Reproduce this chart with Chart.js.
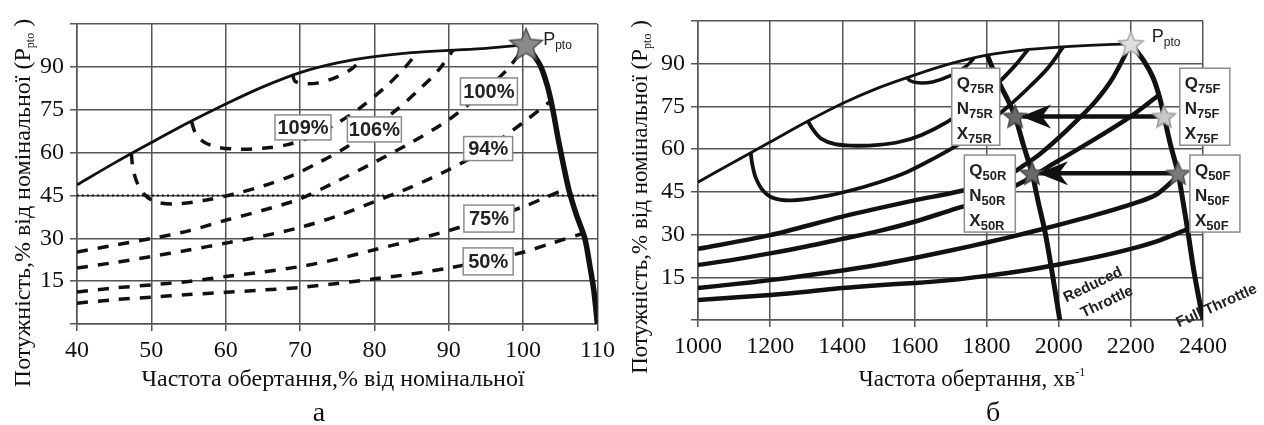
<!DOCTYPE html>
<html lang="uk">
<head>
<meta charset="utf-8">
<title>Характеристики двигуна</title>
<script src="https://cdn.jsdelivr.net/npm/chart.js@4.4.1/dist/chart.umd.min.js"></script>
<style>
  html, body { margin: 0; padding: 0; background: #fff; }
  .wrap { position: relative; width: 1264px; height: 425px; overflow: hidden; background: #fff; }
  .wrap canvas { position: absolute; top: 0; }
</style>
</head>
<body>
<div class="wrap">
  <canvas id="chartA" width="620" height="425" style="left:0"></canvas>
  <canvas id="chartB" width="644" height="425" style="left:620px"></canvas>
</div>
<script>
/* ===== Графік а: частота, % від номінальної ===== */
const aTicksX = [40, 50, 60, 70, 80, 90, 100, 110];
const yTickLabels = [15, 30, 45, 60, 75, 90];
const yGrid = [0, 15, 30, 45, 60, 75, 90, 105];

// зовнішня характеристика (тонка суцільна)
const aTopX = [40, 45, 50, 55, 60, 65, 70, 75, 80, 85, 90, 95, 100.4];
const aTopY = [48.7, 56.3, 63.5, 70.5, 77, 83, 88, 91.4, 93.6, 95, 95.8, 96.5, 97.8];
// регуляторна гілка (товста)
const aGovX = [100.4, 101.6, 102.4, 103.3, 104, 104.7, 105.4, 106.2, 107.2, 108.3, 109, 109.5, 110];
const aGovY = [97.8, 93.5, 90, 83, 75, 65, 56, 46.5, 38, 30, 20, 12, 0];
// замкнені ізолінії (гачки від зовнішньої характеристики)
const aC1X = [69, 69.3, 70.5, 72.5, 75, 77, 78.3];
const aC1Y = [87.5, 85, 84.1, 84.4, 86.5, 89.4, 92.8];
const aC2X = [55.4, 55.9, 57, 59, 62, 65, 68, 71, 74.5, 78, 81.5, 84, 85.8];
const aC2Y = [70.9, 67, 63.8, 61.8, 61.2, 61.5, 62.6, 65, 69.5, 75.5, 83, 89.5, 95.1];
const aC3X = [47.3, 47.5, 48, 49, 50.5, 53, 57, 61, 65, 69, 72.5, 76, 79.5, 83, 86, 88.5, 90.6];
const aC3Y = [59.8, 55, 50, 45.5, 42.8, 42, 43.2, 45.4, 48.3, 52, 56.5, 61.5, 68, 75, 82, 88.5, 95.9];
// лінії навантаження
const aLoadX = [40, 45, 50, 55, 60, 65, 70, 75, 80, 85, 90, 95];
const aL100Y = [25.2, 27.6, 29.9, 32.6, 36.3, 39.8, 43.8, 50, 56.6, 63.6, 71.5, 82];
const aL100EndX = [98, 100.4];
const aL100EndY = [89.5, 97.8];
const aL94Y = [19.6, 21.5, 23.6, 25.9, 28.3, 30.8, 33.8, 37.8, 42.8, 48, 54, 61.2];
const aL94EndX = [100, 103.7];
const aL94EndY = [70.5, 78];
const aL75Y = [11.2, 12.6, 13.7, 14.9, 16.6, 18.2, 20.1, 22.7, 26, 29.2, 32.7, 36.8];
const aL75EndX = [100, 103, 105.8];
const aL75EndY = [41, 44.3, 47.3];
const aL50Y = [7.3, 8.5, 9.4, 10.3, 11.1, 11.9, 12.8, 14.2, 15.8, 17.5, 19.6, 22.2];
const aL50EndX = [100, 104, 107.8];
const aL50EndY = [25.1, 28.4, 31.5];
const aRefX = [40, 110];
const aRefY = [45, 45];
const aStarX = [100.4];
const aStarY = [97.8];
const aLoadText = ['109%', '106%', '100%', '94%', '75%', '50%'];

/* ===== Графік б: частота, хв-1 ===== */
const bTicksX = [1000, 1200, 1400, 1600, 1800, 2000, 2200, 2400];
const bTopX = [1000, 1100, 1200, 1300, 1400, 1500, 1600, 1700, 1800, 1900, 2000, 2100, 2200];
const bTopY = [48.4, 55.5, 62.5, 69.5, 76, 81.5, 86, 90, 93, 94.8, 95.8, 96.5, 97];
const bLoopX = [1578, 1588, 1610, 1650, 1700, 1740, 1765];
const bLoopY = [85.3, 84, 83.3, 83.6, 85.8, 88.8, 91.8];
const bC2X = [1305, 1318, 1340, 1380, 1440, 1500, 1560, 1620, 1690, 1760, 1830, 1880, 1915];
const bC2Y = [69.8, 67, 63.8, 61.8, 61.2, 61.5, 62.6, 65, 69.5, 75.5, 83, 89.5, 95];
const bC3X = [1146, 1150, 1160, 1180, 1210, 1260, 1340, 1420, 1500, 1580, 1650, 1720, 1790, 1860, 1920, 1970, 2012];
const bC3Y = [58.9, 55, 50, 45.5, 42.8, 42, 43.2, 45.4, 48.3, 52, 56.5, 61.5, 68, 75, 82, 88.5, 95.8];
const bL1X = [1000, 1200, 1400, 1600, 1700, 1800, 1850, 1900, 1950, 2000, 2050, 2100, 2150, 2200];
const bL1Y = [25, 29.8, 36.3, 42, 44.5, 47.5, 50, 54, 58.5, 64, 70, 76.5, 85, 97];
const bLoadX = [1000, 1100, 1200, 1300, 1400, 1500, 1600, 1700, 1800, 1900, 2000, 2100, 2200];
const bL2Y = [19.3, 21.2, 23.4, 25.8, 28.5, 31.2, 34.5, 38.5, 42.5, 48.5, 56, 63.5, 71.5];
const bL2EndX = [2278];
const bL2EndY = [79];
const bL3Y = [11.2, 12.6, 14, 15.6, 17.4, 19.4, 21.8, 24.4, 27.2, 30.2, 33.4, 36.8, 40.6];
const bL3EndX = [2270, 2330];
const bL3EndY = [44, 50.5];
const bL4Y = [7, 7.9, 8.8, 9.9, 11.2, 12.2, 13, 14, 15.5, 17.3, 19.5, 22, 25];
const bL4EndX = [2280, 2356];
const bL4EndY = [28, 31.8];
const bRedX = [1802, 1818, 1840, 1860, 1879, 1902, 1926, 1944, 1962, 1980, 2003];
const bRedY = [93, 88, 82, 77, 71.5, 61.5, 51.5, 41, 31, 18, 0];
const bFullX = [2200, 2236, 2262, 2280, 2292, 2310, 2331, 2344, 2357, 2375, 2400];
const bFullY = [97, 91, 85, 78, 71.5, 61.5, 51.5, 42, 32, 17, 0];
const bStarX = [2200, 2292, 2331, 1879, 1926];
const bStarY = [97, 71.5, 51.5, 71.5, 51.5];
const bArrowFromX = [2292, 2331];
const bArrowToX = [1879, 1926];
const bArrowY = [71.5, 51.5];
const bOpNames = ['75R', '50R', '75F', '50F'];
const bOpLetters = ['Q', 'N', 'X'];

/* ===== стиль ===== */
const SERIF = '"Liberation Serif", "Times New Roman", serif';
const SANS = '"Liberation Sans", Arial, sans-serif';
const INK = '#111';
const GRID = '#555';

function pts(xs, ys) {
  return xs.map((x, i) => ({ x: x, y: ys[i] }));
}

function curve(xs, ys, width, dash) {
  return {
    data: pts(xs, ys),
    showLine: true,
    borderColor: INK,
    borderWidth: width,
    borderDash: dash || [],
    borderCapStyle: 'butt',
    borderJoinStyle: 'round',
    pointRadius: 0,
    tension: 0.3,
    fill: false
  };
}

function makeStar(r, fill, stroke) {
  const c = document.createElement('canvas');
  const s = Math.ceil(r * 2 + 4);
  c.width = s;
  c.height = s;
  const g = c.getContext('2d');
  g.translate(s / 2, s / 2 + 1);
  g.beginPath();
  for (let i = 0; i < 10; i++) {
    const rr = i % 2 === 0 ? r : r * 0.45;
    const a = -Math.PI / 2 + i * Math.PI / 5;
    g.lineTo(rr * Math.cos(a), rr * Math.sin(a));
  }
  g.closePath();
  g.fillStyle = fill;
  g.fill();
  g.lineWidth = 1.5;
  g.strokeStyle = stroke;
  g.stroke();
  return c;
}

function buildScales(xMin, xMax, xTicks, yWidth, xHeight) {
  const grid = { color: GRID, lineWidth: 1.5, tickLength: 7, drawTicks: true };
  const border = { display: true, color: GRID, width: 1.5 };
  const tickFont = { family: SERIF, size: 24 };
  return {
    x: {
      type: 'linear', min: xMin, max: xMax,
      grid: grid, border: border,
      afterBuildTicks: s => { s.ticks = xTicks.map(v => ({ value: v })); },
      ticks: { color: INK, font: tickFont, padding: 5, maxRotation: 0, callback: v => String(v) },
      afterFit: s => { s.height = xHeight; }
    },
    y: {
      type: 'linear', min: 0, max: 105,
      grid: grid, border: border,
      afterBuildTicks: s => { s.ticks = yGrid.map(v => ({ value: v })); },
      ticks: { color: INK, font: tickFont, padding: 6, callback: v => yTickLabels.includes(v) ? String(v) : '' },
      afterFit: s => { s.width = yWidth; }
    }
  };
}

// текст з індексами: parts = [[текст, шрифт, зсув]]
function drawRich(ctx, parts, x, y, align) {
  let w = 0;
  parts.forEach(p => { ctx.font = p[1]; w += ctx.measureText(p[0]).width; });
  let cx = align === 'center' ? x - w / 2 : (align === 'right' ? x - w : x);
  ctx.textAlign = 'left';
  ctx.textBaseline = 'alphabetic';
  parts.forEach(p => {
    ctx.font = p[1];
    ctx.fillText(p[0], cx, y + (p[2] || 0));
    cx += ctx.measureText(p[0]).width;
  });
}

function drawBox(ctx, cx, cy, w, h) {
  ctx.fillStyle = '#fff';
  ctx.fillRect(cx - w / 2, cy - h / 2, w, h);
  ctx.strokeStyle = '#8c8c8c';
  ctx.lineWidth = 1.5;
  ctx.strokeRect(cx - w / 2, cy - h / 2, w, h);
}

function drawYTitle(ctx, x, y, size) {
  ctx.save();
  ctx.translate(x, y);
  ctx.rotate(-Math.PI / 2);
  ctx.fillStyle = INK;
  drawRich(ctx, [
    ['Потужність,% від номінальної (P', size + 'px ' + SERIF],
    ['pto', '12px ' + SERIF, 4],
    [' )', size + 'px ' + SERIF]
  ], 0, 0, 'center');
  ctx.restore();
}

function drawRotated(ctx, text, x, y, angle) {
  ctx.save();
  ctx.translate(x, y);
  ctx.rotate(angle);
  ctx.font = 'bold 15px ' + SANS;
  ctx.fillStyle = '#222';
  ctx.textAlign = 'center';
  ctx.textBaseline = 'middle';
  ctx.fillText(text, 0, 0);
  ctx.restore();
}

const baseOptions = {
  responsive: false,
  animation: false,
  events: [],
  plugins: { legend: { display: false }, tooltip: { enabled: false } }
};

/* ===== графік а ===== */
// розміщення підписів навантаження: центр (одиниці осей), розмір у px
const aLoadBoxes = [
  [70.4, 68.8, 56, 25], [80, 68.1, 54, 25], [95.4, 81.4, 57, 27],
  [95.3, 61.4, 49, 24], [95.4, 36.9, 50, 27], [95.3, 21.9, 50, 27]
];

const annotA = {
  id: 'annotA',
  afterDatasetsDraw(chart) {
    const ctx = chart.ctx;
    const sx = chart.scales.x, sy = chart.scales.y;
    ctx.save();
    aLoadText.forEach((t, i) => {
      const b = aLoadBoxes[i];
      const cx = sx.getPixelForValue(b[0]), cy = sy.getPixelForValue(b[1]);
      drawBox(ctx, cx, cy, b[2], b[3]);
      ctx.font = 'bold 20px ' + SANS;
      ctx.fillStyle = '#222';
      ctx.textAlign = 'center';
      ctx.textBaseline = 'middle';
      ctx.fillText(t, cx, cy + 1);
    });
    ctx.fillStyle = '#222';
    drawRich(ctx, [['P', '18px ' + SANS], ['pto', '12px ' + SANS, 4]],
      sx.getPixelForValue(102.7), sy.getPixelForValue(97.5), 'left');
    ctx.restore();
  },
  afterDraw(chart) {
    const ctx = chart.ctx;
    ctx.save();
    ctx.fillStyle = INK;
    drawRich(ctx, [['Частота обертання,% від номінальної', '24px ' + SERIF]], 333, 386, 'center');
    drawYTitle(ctx, 30, 203, 24);
    drawRich(ctx, [['а', '28px ' + SERIF]], 319, 421, 'center');
    ctx.restore();
  }
};

const dash = [11, 10];
const aLoads = [
  [aL100Y, aL100EndX, aL100EndY],
  [aL94Y, aL94EndX, aL94EndY],
  [aL75Y, aL75EndX, aL75EndY],
  [aL50Y, aL50EndX, aL50EndY]
];

new Chart(document.getElementById('chartA'), {
  type: 'scatter',
  data: {
    datasets: [
      {
        data: pts(aStarX, aStarY),
        pointStyle: makeStar(17, '#8a8a8a', '#505050'),
        pointRadius: 10,
        showLine: false
      },
      curve(aTopX, aTopY, 2.8),
      curve(aGovX, aGovY, 5.5),
      curve(aC1X, aC1Y, 3.5, dash),
      curve(aC2X, aC2Y, 3.5, dash),
      curve(aC3X, aC3Y, 3.5, dash)
    ].concat(aLoads.map(l => curve(aLoadX.concat(l[1]), l[0].concat(l[2]), 3.5, dash)))
     .concat([curve(aRefX, aRefY, 2, [2, 3])])
  },
  options: Object.assign({}, baseOptions, {
    layout: { padding: { left: 0, top: 24, right: 19, bottom: 0 } },
    scales: buildScales(40, 110, aTicksX, 77, 101)
  }),
  plugins: [annotA]
});

/* ===== графік б ===== */
// розміщення табличок режимів: центр (одиниці осей), розмір у px
const bOpBoxes = [
  [1770, 74.9, 48, 77], [1809, 44.4, 51, 77],
  [2405, 74.9, 50, 77], [2433, 44.4, 50, 77]
];

const annotB = {
  id: 'annotB',
  afterDatasetsDraw(chart) {
    const ctx = chart.ctx;
    const sx = chart.scales.x, sy = chart.scales.y;
    ctx.save();
    // наконечники стрілок
    ctx.fillStyle = INK;
    bArrowToX.forEach((x, i) => {
      const tx = sx.getPixelForValue(x) + 6, ty = sy.getPixelForValue(bArrowY[i]);
      ctx.beginPath();
      ctx.moveTo(tx, ty);
      ctx.lineTo(tx + 30, ty - 12);
      ctx.lineTo(tx + 21, ty);
      ctx.lineTo(tx + 30, ty + 12);
      ctx.closePath();
      ctx.fill();
    });
    // таблички Q / N / X
    bOpNames.forEach((n, i) => {
      const b = bOpBoxes[i];
      const cx = sx.getPixelForValue(b[0]), cy = sy.getPixelForValue(b[1]);
      drawBox(ctx, cx, cy, b[2], b[3]);
      ctx.fillStyle = '#222';
      bOpLetters.forEach((l, j) => {
        drawRich(ctx, [[l, 'bold 17px ' + SANS], [n, 'bold 13px ' + SANS, 4]],
          cx - b[2] / 2 + 5, cy - b[3] / 2 + 21 + j * 25, 'left');
      });
    });
    ctx.fillStyle = '#222';
    drawRich(ctx, [['P', '18px ' + SANS], ['pto', '12px ' + SANS, 4]],
      sx.getPixelForValue(2258), sy.getPixelForValue(97.5), 'left');
    drawRotated(ctx, 'Reduced', sx.getPixelForValue(2095), sy.getPixelForValue(12.3), -0.45);
    drawRotated(ctx, 'Throttle', sx.getPixelForValue(2134), sy.getPixelForValue(6.3), -0.44);
    drawRotated(ctx, 'Full Throttle', sx.getPixelForValue(2438), sy.getPixelForValue(4.9), -0.42);
    ctx.restore();
  },
  afterDraw(chart) {
    const ctx = chart.ctx;
    ctx.save();
    ctx.fillStyle = INK;
    drawRich(ctx, [['Частота обертання, хв', '23px ' + SERIF], ['-1', '12px ' + SERIF, -10]], 352, 386, 'center');
    drawYTitle(ctx, 27, 197, 23);
    drawRich(ctx, [['б', '28px ' + SERIF]], 373, 421, 'center');
    ctx.restore();
  }
};

const bStars = [
  makeStar(13, '#dedede', '#a8a8a8'),
  makeStar(12, '#c8c8c8', '#999'),
  makeStar(12, '#7a7a7a', '#555'),
  makeStar(12, '#6a6a6a', '#444'),
  makeStar(12, '#6a6a6a', '#444')
];

new Chart(document.getElementById('chartB'), {
  type: 'scatter',
  data: {
    datasets: [
      {
        data: pts(bStarX, bStarY),
        pointStyle: bStars,
        pointRadius: 10,
        showLine: false
      },
      curve([bArrowFromX[0], bArrowToX[0] + 20], [bArrowY[0], bArrowY[0]], 4.5),
      curve([bArrowFromX[1], bArrowToX[1] + 20], [bArrowY[1], bArrowY[1]], 4.5),
      curve(bTopX, bTopY, 2.8),
      curve(bLoopX, bLoopY, 3.5),
      curve(bC2X, bC2Y, 3.8),
      curve(bC3X, bC3Y, 3.8),
      curve(bL1X, bL1Y, 4.5),
      curve(bLoadX.concat(bL2EndX), bL2Y.concat(bL2EndY), 4.5),
      curve(bLoadX.concat(bL3EndX), bL3Y.concat(bL3EndY), 4.5),
      curve(bLoadX.concat(bL4EndX), bL4Y.concat(bL4EndY), 4.5),
      curve(bRedX, bRedY, 5),
      curve(bFullX, bFullY, 5)
    ]
  },
  options: Object.assign({}, baseOptions, {
    layout: { padding: { left: 0, top: 21, right: 61, bottom: 0 } },
    scales: buildScales(1000, 2400, bTicksX, 78, 105)
  }),
  plugins: [annotB]
});
</script>
</body>
</html>
